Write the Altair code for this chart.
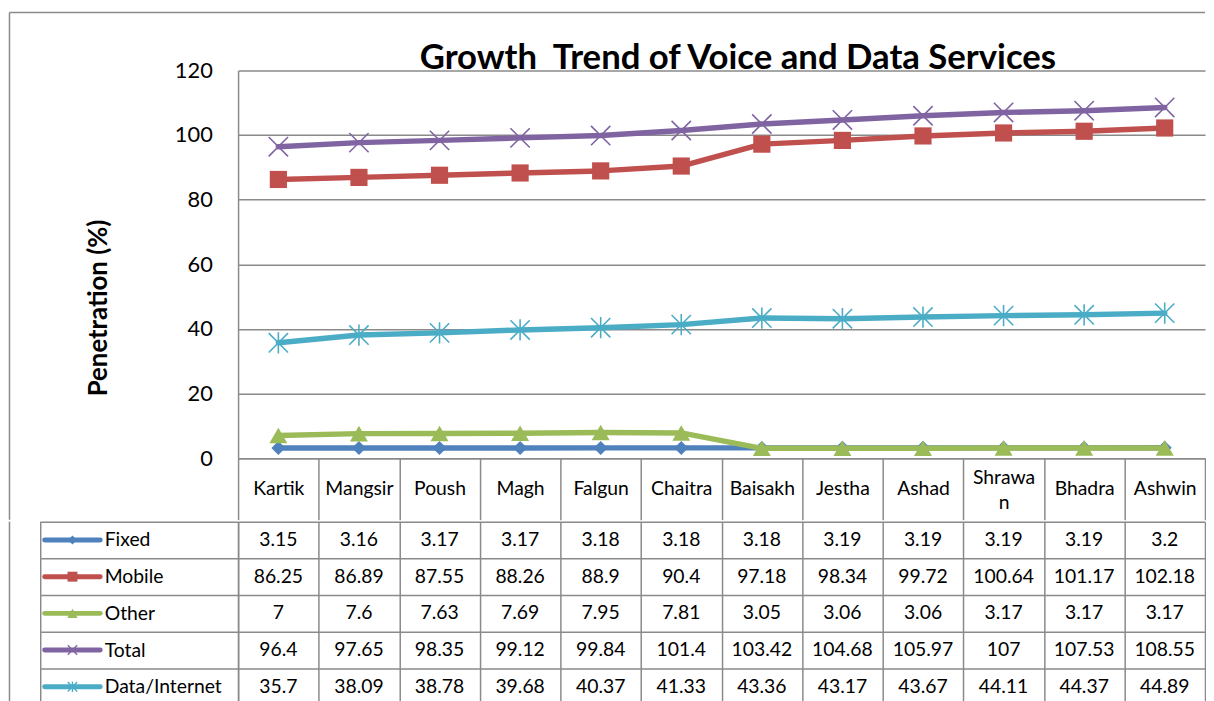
import altair as alt
import pandas as pd

# ---------------- data ----------------
months = ["Kartik", "Mangsir", "Poush", "Magh", "Falgun", "Chaitra",
          "Baisakh", "Jestha", "Ashad", "Shrawan", "Bhadra", "Ashwin"]
series_names = ["Fixed", "Mobile", "Other", "Total", "Data/Internet"]
fixed = [3.15, 3.16, 3.17, 3.17, 3.18, 3.18, 3.18, 3.19, 3.19, 3.19, 3.19, 3.2]
mobile = [86.25, 86.89, 87.55, 88.26, 88.9, 90.4, 97.18, 98.34, 99.72, 100.64, 101.17, 102.18]
other = [7, 7.6, 7.63, 7.69, 7.95, 7.81, 3.05, 3.06, 3.06, 3.17, 3.17, 3.17]
total = [96.4, 97.65, 98.35, 99.12, 99.84, 101.4, 103.42, 104.68, 105.97, 107, 107.53, 108.55]
data_internet = [35.7, 38.09, 38.78, 39.68, 40.37, 41.33, 43.36, 43.17, 43.67, 44.11, 44.37, 44.89]
y_ticks = [0, 20, 40, 60, 80, 100, 120]
title_text = "Growth\u00a0 Trend of Voice and Data Services"
y_title = "Penetration (%)"

colors = ["#4F81BD", "#C0504D", "#9BBB59", "#8064A2", "#4BACC6"]

values = [fixed, mobile, other, total, data_internet]
rows = []
for s, vals in zip(series_names, values):
    for m, v in zip(months, vals):
        rows.append({"month": m, "series": s, "value": v})
df = pd.DataFrame(rows)
keys_df = pd.DataFrame({"series": series_names})

# ---------------- style ----------------
FONT = "Lato"
GRID = "#8a8a8a"
W = 975
H = 391
ROW = 37

X_PATH = "M-1,-1L1,1M-1,1L1,-1"
STAR_PATH = "M-1,-1L1,1M-1,1L1,-1M0,-1.1L0,1.1"
markers = {
    "Fixed": dict(shape="diamond", filled=True, size=200, strokeWidth=0),
    "Mobile": dict(shape="square", filled=True, size=300, strokeWidth=0),
    "Other": dict(shape="triangle-up", filled=True, size=330, strokeWidth=0),
    "Total": dict(shape=X_PATH, filled=False, size=380, strokeWidth=1.6),
    "Data/Internet": dict(shape=STAR_PATH, filled=False, size=380, strokeWidth=1.6),
}
key_markers = {
    "Fixed": dict(shape="diamond", filled=True, size=80, strokeWidth=0),
    "Mobile": dict(shape="square", filled=True, size=100, strokeWidth=0),
    "Other": dict(shape="triangle-up", filled=True, size=110, strokeWidth=0),
    "Total": dict(shape=X_PATH, filled=False, size=90, strokeWidth=1.4),
    "Data/Internet": dict(shape=STAR_PATH, filled=False, size=90, strokeWidth=1.4),
}

cscale = alt.Scale(domain=series_names, range=colors)

# ---------------- top chart ----------------
x_top = alt.X(
    "month:N",
    scale=alt.Scale(type="band", domain=months, paddingInner=0, paddingOuter=0),
    axis=alt.Axis(
        orient="bottom", tickBand="extent", tickSize=62, tickColor=GRID, tickWidth=1.5,
        domainColor=GRID, domainWidth=1.5,
        labelPadding={"condition": {"test": "datum.value == 'Shrawan'", "value": -42},
                      "value": -31},
        labelBaseline="middle",
        labelFont=FONT, labelFontSize=19.5, labelColor="black", labelAngle=0,
        labelOverlap=False, labelFlush=False, labelLineHeight=25, labelLimit=200,
        labelExpr="datum.label == 'Shrawan' ? ['Shrawa', 'n'] : datum.label",
        grid=False, title=None,
    ),
)
y_top = alt.Y(
    "value:Q",
    scale=alt.Scale(domain=[0, 120], nice=False, zero=True),
    axis=alt.Axis(
        values=y_ticks, grid=True, gridColor=GRID, gridWidth=1.5, ticks=False,
        domainColor=GRID, domainWidth=1.5, labelFont=FONT, labelFontSize=22,
        labelColor="black", labelPadding=26,
        title=y_title, titleFont=FONT, titleFontSize=26, titleFontWeight="bold",
        titleColor="black", titleX=-141, titleY=239, titleAngle=270,
        titleAlign="center", titleBaseline="middle",
    ),
)

layers = []
for s in series_names:
    b = alt.Chart(df).transform_filter(alt.datum.series == s).encode(
        x=x_top, y=y_top, color=alt.Color("series:N", scale=cscale, legend=None)
    )
    layers.append(b.mark_line(strokeWidth=5.5, strokeJoin="round", strokeCap="round"))
    mk = markers[s]
    layers.append(b.mark_point(opacity=1, **mk))

title_layer = alt.Chart(pd.DataFrame({"t": [title_text]})).mark_text(
    font=FONT, fontSize=35, fontWeight="bold", color="black", baseline="alphabetic",
    align="center",
).encode(text="t:N", x=alt.value(504), y=alt.value(-1))

border_left_top = alt.Chart(keys_df.head(1)).mark_rule(color=GRID, strokeWidth=1.5).encode(
    x=alt.value(-230.5), y=alt.value(-58.5), y2=alt.value(453)
)
border_top = alt.Chart(keys_df.head(1)).mark_rule(color=GRID, strokeWidth=1.5).encode(
    x=alt.value(-230.5), x2=alt.value(W), y=alt.value(-58.5)
)

top = alt.layer(border_left_top, border_top, *layers, title_layer).properties(width=W, height=H)

# ---------------- table chart ----------------
x_tab = alt.X(
    "month:N",
    scale=alt.Scale(type="band", domain=months, paddingInner=0, paddingOuter=0),
    axis=alt.Axis(orient="top", labels=False, ticks=False, domain=False, grid=True,
                  gridColor=GRID, gridWidth=1.5, tickBand="extent", title=None),
)
y_tab = alt.Y(
    "series:N",
    scale=alt.Scale(type="band", domain=series_names, paddingInner=0, paddingOuter=0),
    axis=alt.Axis(
        tickBand="extent", tickSize=199, tickColor=GRID, tickWidth=1.5,
        grid=True, gridColor=GRID, gridWidth=1.5, domainColor=GRID, domainWidth=1.5,
        labelAlign="left", labelPadding=-64, labelBaseline="middle",
        labelFont=FONT, labelFontSize=19.5, labelColor="black", labelLimit=200,
        title=None,
    ),
)

cells = alt.Chart(df).mark_text(font=FONT, fontSize=19.5, color="black").encode(
    x=x_tab, y=y_tab, text=alt.Text("value:Q")
)

key_layers = []
for s in series_names:
    kb = alt.Chart(keys_df).transform_filter(alt.datum.series == s)
    key_layers.append(
        kb.mark_rule(strokeWidth=5, strokeCap="round").encode(
            x=alt.value(-195), x2=alt.value(-139), y=y_tab,
            color=alt.Color("series:N", scale=cscale, legend=None),
        )
    )
    key_layers.append(
        kb.mark_point(opacity=1, **key_markers[s]).encode(
            x=alt.value(-167), y=y_tab,
            color=alt.Color("series:N", scale=cscale, legend=None),
        )
    )

border_left_tab = alt.Chart(keys_df.head(1)).mark_rule(color=GRID, strokeWidth=1.5).encode(
    x=alt.value(-230.5), y=alt.value(0), y2=alt.value(ROW * 5)
)
legend_col_left = alt.Chart(keys_df.head(1)).mark_rule(color=GRID, strokeWidth=1.5).encode(
    x=alt.value(-199), y=alt.value(0), y2=alt.value(ROW * 5)
)

table = alt.layer(border_left_tab, legend_col_left, cells, *key_layers).properties(
    width=W, height=ROW * 5
)

chart = alt.vconcat(top, table, spacing=-9).properties(padding=0, background="white").configure_view(
    strokeWidth=0
)

chart.save("out.html", embed_options={"renderer": "svg", "actions": False})
